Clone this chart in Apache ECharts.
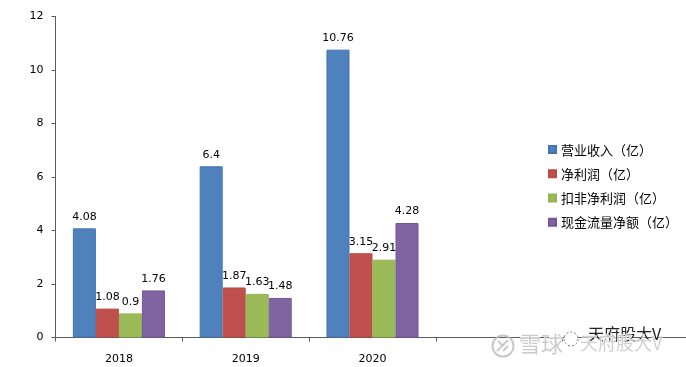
<!DOCTYPE html>
<html><head><meta charset="utf-8">
<style>html,body{margin:0;padding:0;background:#fff}#c{width:686px;height:367px}</style>
<script src="https://cdn.jsdelivr.net/npm/echarts@6/dist/echarts.min.js"></script>
</head><body><div id="c"></div>
<script>
var categories = ['2018','2019','2020','',''];
var revenue = [4.08,6.4,10.76,null,null];
var netProfit = [1.08,1.87,3.15,null,null];
var adjProfit = [0.9,1.63,2.91,null,null];
var cashFlow = [1.76,1.48,4.28,null,null];
var names = ['营业收入（亿）','净利润（亿）','扣非净利润（亿）','现金流量净额（亿）'];
var fills = ['#4F81BD','#C0504D','#9BBB59','#8064A2'];
var borders = ['#4274B2','#BA4A47','#93B44F','#75569B'];
var values = [revenue,netProfit,adjProfit,cashFlow];
var font = '"DejaVu Sans",sans-serif';
var chart = echarts.init(document.getElementById('c'),null,{renderer:'canvas'});
function wm(x,y,t,size,fill,stroke,lw){return {type:'text',silent:true,z:20,x:x,y:y,style:{text:t,font:size+'px "Noto Sans CJK SC"',fill:fill,stroke:stroke,lineWidth:lw||0}};}
function stroke(x1,y1,x2,y2){return {type:'line',silent:true,z:20,shape:{x1:x1,y1:y1,x2:x2,y2:y2},style:{stroke:'rgba(190,190,190,0.85)',lineWidth:2}};}
chart.setOption({
  animation:false,
  backgroundColor:'#fff',
  textStyle:{fontFamily:font},
  grid:{left:55.5,width:634,top:16.5,height:321,outerBoundsMode:'none'},
  legend:{orient:'vertical',left:543,top:137,itemWidth:7,itemHeight:7,itemGap:9,icon:'rect',
    textStyle:{fontFamily:'"Noto Sans CJK SC"',fontSize:13,color:'#000',lineHeight:15.2},
    data:names},
  xAxis:{type:'category',data:categories,
    axisLine:{lineStyle:{color:'#5a5a5a',width:1}},
    axisTick:{show:true,length:4,lineStyle:{color:'#5a5a5a'}},
    axisLabel:{color:'#000',fontFamily:font,fontSize:11,margin:16}},
  yAxis:{type:'value',min:0,max:12,interval:2,splitLine:{show:false},
    axisLine:{show:true,lineStyle:{color:'#5a5a5a',width:1}},
    axisTick:{show:true,length:4,lineStyle:{color:'#5a5a5a'}},
    axisLabel:{color:'#000',fontFamily:font,fontSize:11,margin:12}},
  series:values.map(function(v,i){return {
    name:names[i],type:'bar',data:v,barGap:0,barCategoryGap:'27.4%',
    itemStyle:{color:fills[i],borderColor:borders[i],borderWidth:1},
    label:{show:true,position:'top',distance:6,color:'#000',fontFamily:font,fontSize:11}
  };}),
  graphic:[
    wm(519,333,'雪球',22,'rgba(190,190,190,0.8)','#fff',1),
    wm(588,326,'天府股大V',16,'#222','#fff',0.3),
    wm(580,334,'天府股大V',18,'rgba(190,190,190,0.7)','#fff',1),
    {type:'circle',silent:true,z:20,shape:{cx:503,cy:346,r:10.5},style:{fill:'none',stroke:'rgba(190,190,190,0.85)',lineWidth:2}},
    stroke(497,351,508,340),stroke(498,341,503,346),stroke(503,351,508,346),
    {type:'circle',silent:true,z:20,shape:{cx:571,cy:339,r:7},style:{fill:'#fff',stroke:'#777',lineWidth:1,lineDash:[2,2]}}
  ]
});
</script></body></html>
